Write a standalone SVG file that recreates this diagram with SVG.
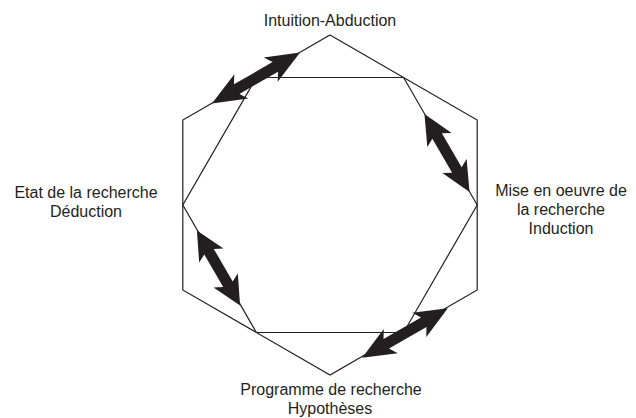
<svg xmlns="http://www.w3.org/2000/svg" xmlns:xlink="http://www.w3.org/1999/xlink" width="636" height="418" viewBox="0 0 636 418">
<style>
.hex{fill:none;stroke:#231f20;stroke-width:1.2;stroke-linejoin:miter}
.arr{fill:#231f20}
.lbl{font-family:"Liberation Sans",Arial,sans-serif;font-size:16px;fill:#231f20;text-anchor:middle}
</style>
<defs>
<path id="dbl" class="arr" d="M48 0 L16 -14 L21 -5.5 L-21 -5.5 L-16 -14 L-48 0 L-16 14 L-21 5.5 L21 5.5 L16 14 Z"/>
</defs>
<rect width="636" height="418" fill="#fff"/>
<g id="hexagons">
<polygon class="hex" points="330,35 477.2,120 477.2,290 330,375 182.8,290 182.8,120"/>
<polygon class="hex" points="256.4,77.5 403.6,77.5 477.2,205 403.6,332.5 256.4,332.5 182.8,205"/>
</g>
<g id="connectors">
<use xlink:href="#dbl" href="#dbl" transform="translate(256,78) rotate(-30) scale(1.06,1)"/>
<use xlink:href="#dbl" href="#dbl" transform="translate(447,153) rotate(60) scale(0.94,1)"/>
<use xlink:href="#dbl" href="#dbl" transform="translate(218.5,268) rotate(60) scale(0.9,1)"/>
<use xlink:href="#dbl" href="#dbl" transform="translate(405,333) rotate(-30) scale(1.03,1)"/>
</g>
<g id="node-intuition">
<text class="lbl" x="330" y="26">Intuition-Abduction</text>
</g>
<g id="node-etat">
<text class="lbl" x="86" y="198">Etat de la recherche</text>
<text class="lbl" x="86" y="217">Déduction</text>
</g>
<g id="node-mise">
<text class="lbl" x="561" y="196">Mise en oeuvre de</text>
<text class="lbl" x="561" y="215">la recherche</text>
<text class="lbl" x="561" y="234">Induction</text>
</g>
<g id="node-programme">
<text class="lbl" x="331" y="395">Programme de recherche</text>
<text class="lbl" x="330" y="414">Hypothèses</text>
</g>
</svg>
